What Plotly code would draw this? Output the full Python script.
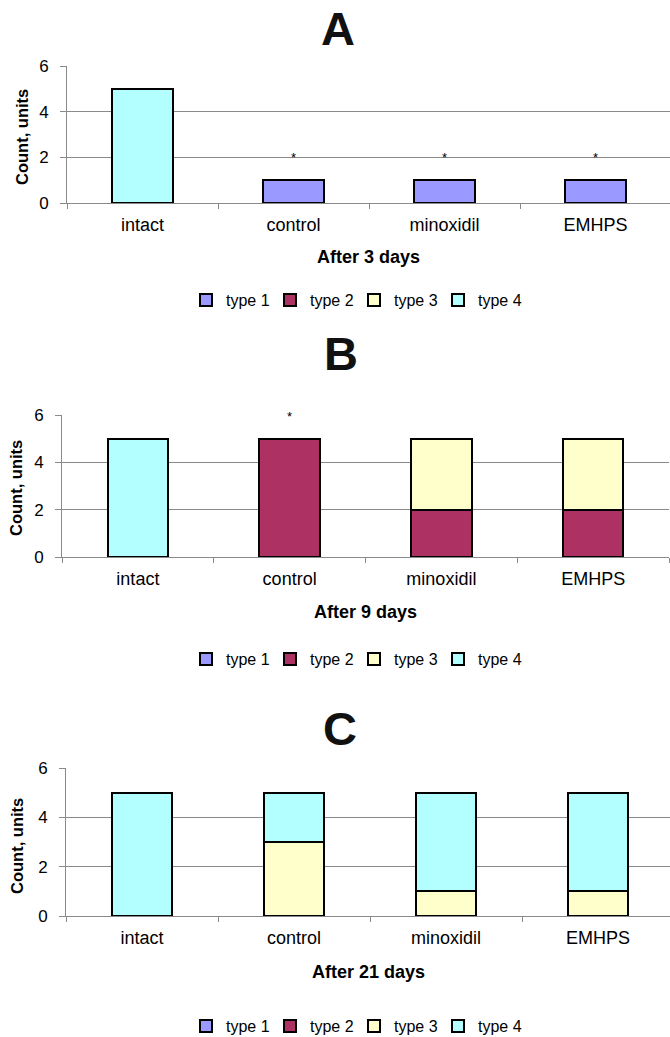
import plotly.graph_objects as go

W, H = 670, 1037

categories = ["intact", "control", "minoxidil", "EMHPS"]
type_names = ["type 1", "type 2", "type 3", "type 4"]
type_colors = ["#9999FF", "#AD3163", "#FFFFCC", "#B3FFFF"]

# Panel A: after 3 days
a_type1 = [0, 1, 1, 1]
a_type2 = [0, 0, 0, 0]
a_type3 = [0, 0, 0, 0]
a_type4 = [5, 0, 0, 0]
a_star_cats = ["control", "minoxidil", "EMHPS"]
a_star_y = [2.0, 2.0, 2.0]

# Panel B: after 9 days
b_type1 = [0, 0, 0, 0]
b_type2 = [0, 5, 2, 2]
b_type3 = [0, 0, 3, 3]
b_type4 = [5, 0, 0, 0]
b_star_cats = ["control"]
b_star_y = [5.95]

# Panel C: after 21 days
c_type1 = [0, 0, 0, 0]
c_type2 = [0, 0, 0, 0]
c_type3 = [0, 3, 1, 1]
c_type4 = [5, 2, 4, 4]

panel_letters = ["A", "B", "C"]
panel_xtitles = ["After 3 days", "After 9 days", "After 21 days"]
y_title = "Count, units"
y_ticks = [0, 2, 4, 6]

panels = [
    dict(series=[a_type1, a_type2, a_type3, a_type4], stars=(a_star_cats, a_star_y),
         xd=(67, 671), yd=(66, 203), letter=(338, 0), ytitle=(22, 137),
         xtitle_y=257, legend_y=300),
    dict(series=[b_type1, b_type2, b_type3, b_type4], stars=(b_star_cats, b_star_y),
         xd=(62, 669), yd=(415, 557), letter=(341, 325), ytitle=(16, 488),
         xtitle_y=612, legend_y=659),
    dict(series=[c_type1, c_type2, c_type3, c_type4], stars=([], []),
         xd=(66, 674), yd=(768, 916), letter=(340, 700), ytitle=(17, 846),
         xtitle_y=972, legend_y=1026),
]

FONT = "Liberation Sans, Arial, sans-serif"
GRID = "#8a8a8a"
LETTER_SIZE = 47

fig = go.Figure()
annotations = []
layout = {}

for i, p in enumerate(panels):
    n = "" if i == 0 else str(i + 1)
    xa, ya = "x" + n, "y" + n
    leg = "legend" + n
    for k in range(4):
        fig.add_trace(go.Bar(
            x=categories, y=p["series"][k], name=type_names[k],
            marker=dict(color=type_colors[k], line=dict(color="black", width=2)),
            xaxis=xa, yaxis=ya, legend=leg,
        ))
    x0, x1 = p["xd"]
    y0, y1 = p["yd"]
    xr = min(x1, W)
    layout["xaxis" + n] = dict(
        domain=[x0 / W, xr / W], anchor=ya,
        showline=True, linecolor=GRID, linewidth=1,
        ticks="outside", tickson="boundaries", ticklen=5, tickcolor=GRID,
        tickfont=dict(family=FONT, size=18, color="black"),
        ticklabelstandoff=5,
        showgrid=False, zeroline=False, fixedrange=True,
        range=[-0.5, -0.5 + 4 * (xr - x0) / (x1 - x0)],
    )
    layout["yaxis" + n] = dict(
        domain=[1 - y1 / H, 1 - y0 / H], anchor=xa,
        range=[0, 6], tickvals=y_ticks,
        showline=True, linecolor=GRID, linewidth=1,
        ticks="outside", ticklen=6, tickcolor=GRID,
        showgrid=True, gridcolor=GRID, gridwidth=1, zeroline=False,
        tickfont=dict(family=FONT, size=17, color="black"),
        ticklabelstandoff=8,
    )
    layout[leg] = dict(
        orientation="h", x=354 / W, xanchor="center",
        y=1 - p["legend_y"] / H, yanchor="middle",
        font=dict(family=FONT, size=16, color="black"),
        bgcolor="rgba(0,0,0,0)", traceorder="normal",
        itemwidth=30, entrywidth=39, entrywidthmode="pixels",
    )
    annotations.append(dict(
        text="<b>" + panel_letters[i] + "</b>", x=p["letter"][0] / W,
        y=1 - p["letter"][1] / H,
        xref="paper", yref="paper", xanchor="center", yanchor="top", showarrow=False,
        font=dict(family=FONT, size=LETTER_SIZE, color="#111111"),
    ))
    annotations.append(dict(
        text="<b>" + y_title + "</b>", x=p["ytitle"][0] / W, y=1 - p["ytitle"][1] / H,
        xref="paper", yref="paper", xanchor="center", yanchor="middle", showarrow=False,
        textangle=-90, font=dict(family=FONT, size=16.5, color="black"),
    ))
    annotations.append(dict(
        text="<b>" + panel_xtitles[i] + "</b>", x=(x0 + xr) / 2 / W, y=1 - p["xtitle_y"] / H,
        xref="paper", yref="paper", xanchor="center", yanchor="middle", showarrow=False,
        font=dict(family=FONT, size=18, color="black"),
    ))
    for c, yv in zip(*p["stars"]):
        annotations.append(dict(
            text="*", x=c, y=yv, xref=xa, yref=ya, xanchor="center", yanchor="middle",
            showarrow=False, font=dict(family=FONT, size=13, color="black"),
        ))

fig.update_layout(
    width=W, height=H, margin=dict(l=0, r=0, t=0, b=0, autoexpand=False),
    paper_bgcolor="white", plot_bgcolor="white",
    barmode="stack", bargap=0.6, showlegend=True,
    annotations=annotations, **layout,
)

fig.write_html("out.html")
